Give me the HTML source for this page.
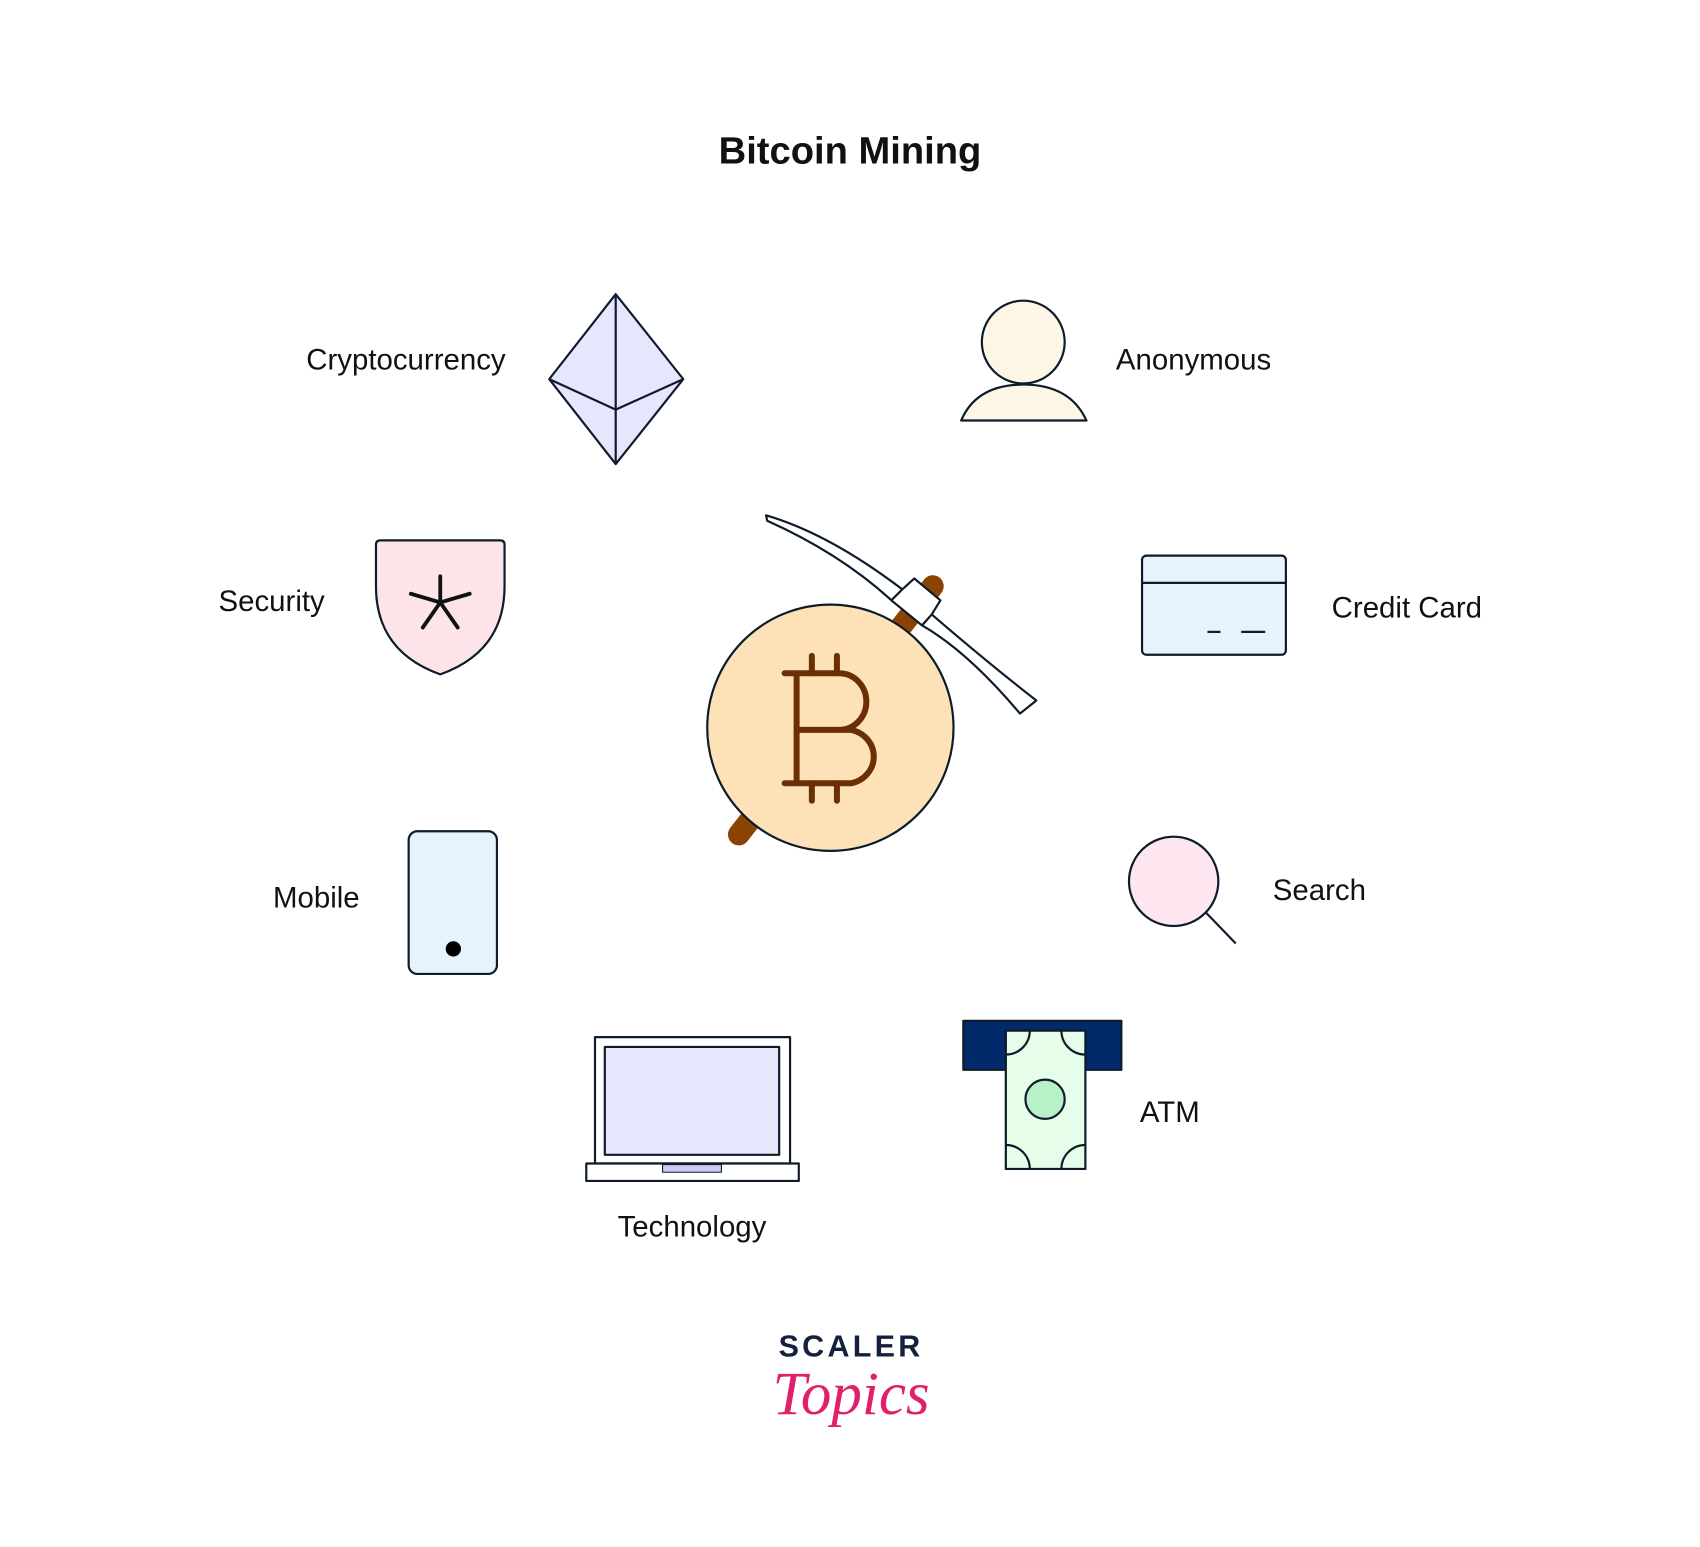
<!DOCTYPE html>
<html><head><meta charset="utf-8"><style>
html,body{margin:0;padding:0;background:#fff}
svg{display:block}
text{font-family:"Liberation Sans",sans-serif;fill:#111}
</style></head><body>
<svg width="1700" height="1547" viewBox="0 0 1560 1420" preserveAspectRatio="none" xmlns="http://www.w3.org/2000/svg">
<rect width="1560" height="1420" fill="#fff"/>
<g transform="translate(-4,-2)">
<text x="784" y="152" text-anchor="middle" font-size="35" font-weight="bold">Bitcoin Mining</text>

<g stroke="#0d1b2a" stroke-width="2" stroke-linejoin="round">
<polygon points="569,272 631,350 569,428 508,350" fill="#e6e6fd"/>
<polyline points="508,350 569,378 631,350" fill="none"/>
<line x1="569" y1="272" x2="569" y2="428"/>
<path d="M886,388 Q900,355 943,355 Q986,355 1001,388 Z" fill="#fdf5e6"/>
<circle cx="943" cy="316" r="38" fill="#fdf5e6"/>
<path d="M349,502 Q349,498 353,498 L463,498 Q467,498 467,502 L467,540 Q467,600 408,621 Q349,600 349,540 Z" fill="#fde4e8"/>
<rect x="1052" y="512" width="132" height="91" rx="4" fill="#e6f2fd"/>
<line x1="1052" y1="537" x2="1184" y2="537"/>
<line x1="1112" y1="582" x2="1124" y2="582"/>
<line x1="1143" y1="582" x2="1165" y2="582"/>
<rect x="379" y="765" width="81" height="131" rx="8" fill="#e6f2fd"/>
<line x1="1111" y1="840" x2="1138" y2="868"/>
<circle cx="1081" cy="811" r="41" fill="#fde6f0"/>
<rect x="550" y="954" width="179" height="116" fill="#fff"/>
<rect x="559" y="963" width="160" height="99" fill="#e6e6fd"/>
<rect x="542" y="1070" width="195" height="16" fill="#fff"/>
<rect x="612" y="1071" width="54" height="7" fill="#d0c8f5" stroke-width="1"/>
<rect x="888" y="939" width="145" height="45" fill="#002a6a"/>
<rect x="927" y="948" width="73" height="127" fill="#e6fde9"/>
<path d="M927,970 A22,22 0 0 0 949,948 M978,948 A22,22 0 0 0 1000,970 M927,1053 A22,22 0 0 1 949,1075 M978,1075 A22,22 0 0 1 1000,1053" fill="none"/>
<circle cx="963" cy="1011" r="18" fill="#b8f0c8"/>
</g>
<g stroke="#111" stroke-width="3.5" stroke-linecap="round">
<line x1="408" y1="531" x2="408" y2="555"/>
<line x1="381" y1="547" x2="408" y2="555"/>
<line x1="435" y1="547" x2="408" y2="555"/>
<line x1="392" y1="578" x2="408" y2="555"/>
<line x1="424" y1="578" x2="408" y2="555"/>
</g>
<circle cx="420" cy="873" r="7" fill="#000"/>

<line x1="682" y1="768" x2="860" y2="540" stroke="#8a4303" stroke-width="20" stroke-linecap="round"/>
<circle cx="766" cy="670" r="113" fill="#fde2b8" stroke="#0d1b2a" stroke-width="2"/>
<g fill="none" stroke="#6b2f05" stroke-width="5.5" stroke-linecap="round" stroke-linejoin="round">
<path d="M724,620 L774,620 A25,26 0 0 1 774,672 L735,672 M774,672 L785,672 A26,25 0 0 1 785,721 L724,721 M735,620 L735,721"/>
<line x1="749" y1="604" x2="749" y2="620"/><line x1="772" y1="604" x2="772" y2="620"/>
<line x1="749" y1="721" x2="749" y2="737"/><line x1="772" y1="721" x2="772" y2="737"/>
</g>
<path d="M707,475 Q765,492 832,543 L822,553 L850,576 L859,566 Q910,610 955,645 L940,657 Q892,600 850,576 L822,553 Q775,510 708,480 Z" fill="#fff" stroke="#0d1b2a" stroke-width="2" stroke-linejoin="round"/>
<path d="M832,543 L843,533 L867,553 L859,566 L850,576 L822,553 Z" fill="#fff" stroke="#0d1b2a" stroke-width="2" stroke-linejoin="round"/>

<g font-size="27">
<text x="468" y="341" text-anchor="end">Cryptocurrency</text>
<text x="1028" y="341">Anonymous</text>
<text x="302" y="563" text-anchor="end">Security</text>
<text x="1226" y="569">Credit Card</text>
<text x="334" y="835" text-anchor="end">Mobile</text>
<text x="1172" y="828">Search</text>
<text x="639" y="1137" text-anchor="middle">Technology</text>
<text x="1050" y="1032">ATM</text>
</g>
<text x="785" y="1247" text-anchor="middle" font-size="28" font-weight="bold" letter-spacing="3" style="fill:#14213d">SCALER</text>
<text x="785" y="1300" text-anchor="middle" font-size="56" font-style="italic" style="fill:#e0206b;font-family:'Liberation Serif',serif">Topics</text>
</g>
</svg>
</body></html>
